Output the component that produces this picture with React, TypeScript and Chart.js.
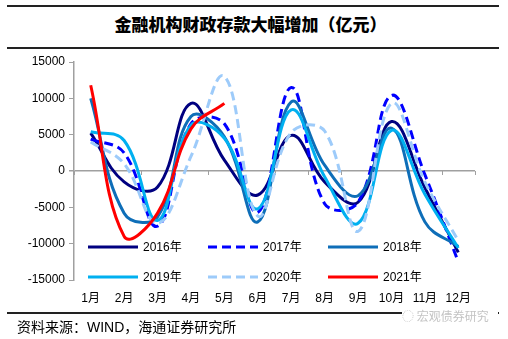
import React, { useEffect, useRef } from "react";
import { Chart, registerables } from "chart.js";

Chart.register(...registerables);

// ---- data ----
const months = ["1月", "2月", "3月", "4月", "5月", "6月", "7月", "8月", "9月", "10月", "11月", "12月"];
const yTicks = [-15000, -10000, -5000, 0, 5000, 10000, 15000];

const seriesNames = ["2016年", "2017年", "2018年", "2019年", "2020年", "2021年"];
const values2016 = [5200, -1500, -2200, 9300, 1500, -3300, 4900, -1500, -4300, 6800, -2300, -11200];
const values2017 = [4400, 2500, -7600, 6500, 6500, -5700, 11500, -4500, -4300, 10400, -500, -12500];
const values2018 = [10000, -5800, -6300, 7500, 4700, -7000, 9500, 800, -3400, 5900, -7000, -10400];
const values2019 = [5400, 4200, -6800, 6300, 4500, -5200, 8400, -800, -7200, 5600, -3200, -10600];
const values2020 = [4000, 1000, -7200, 2000, 13000, -6200, 5300, 5500, -8300, 9300, -1500, -9600];
const values2021 = [11800, -9000, -5800, 5800, 9300, null, null, null, null, null, null, null];

const seriesColors = ["#000080", "#0000FF", "#0E6EB8", "#00B0F0", "#9DCBFA", "#FF0000"];
const seriesDashed = [false, true, false, false, true, false];

const AXIS_GRAY = "#A0A0A0";
const FONT_FAMILY = "'Liberation Sans', Arial, 'Noto Sans CJK SC', sans-serif";

const zeroTicksPlugin = {
  id: "zeroTicks",
  beforeDatasetsDraw(chart: any) {
    const { ctx, scales } = chart;
    const x = scales.x;
    const y = scales.y;
    const y0 = y.getPixelForValue(0);
    ctx.save();
    ctx.strokeStyle = AXIS_GRAY;
    ctx.lineWidth = 1;
    for (let i = 0; i <= months.length; i++) {
      const px = Math.round(x.getPixelForValue(i - 0.5)) + 0.5;
      ctx.beginPath();
      ctx.moveTo(px, y0);
      ctx.lineTo(px, y0 + 4);
      ctx.stroke();
    }
    ctx.restore();
  },
};

const insideLegendPlugin = {
  id: "insideLegend",
  afterDatasetsDraw(chart: any) {
    const { ctx, chartArea } = chart;
    ctx.save();
    chart.data.datasets.forEach((ds: any, i: number) => {
      const col = i % 3;
      const row = Math.floor(i / 3);
      const x0 = chartArea.left + 14 + col * 120;
      const yy = chartArea.top + 185 + row * 30;
      ctx.strokeStyle = ds.borderColor;
      ctx.lineWidth = ds.borderWidth;
      ctx.setLineDash(ds.borderDash || []);
      ctx.beginPath();
      ctx.moveTo(x0, yy);
      ctx.lineTo(x0 + 50, yy);
      ctx.stroke();
      ctx.setLineDash([]);
      ctx.fillStyle = "#000";
      ctx.font = `12px ${FONT_FAMILY}`;
      ctx.textBaseline = "middle";
      ctx.textAlign = "left";
      ctx.fillText(ds.label, x0 + 55, yy + 1);
    });
    ctx.restore();
  },
};

export default function App() {
  const canvasRef = useRef<HTMLCanvasElement | null>(null);

  useEffect(() => {
    if (!canvasRef.current) return;
    const allValues = [values2016, values2017, values2018, values2019, values2020, values2021];
    const datasets = allValues.map((vals, i) => ({
      label: seriesNames[i],
      data: vals,
      borderColor: seriesColors[i],
      backgroundColor: seriesColors[i],
      borderWidth: 3,
      borderDash: seriesDashed[i] ? [9, 5] : [],
      pointRadius: 0,
      pointHoverRadius: 0,
      fill: false,
      tension: 0.4,
      spanGaps: false,
      order: allValues.length - i,
    }));

    const chart = new Chart(canvasRef.current, {
      type: "line",
      data: { labels: months, datasets },
      options: {
        animation: false,
        responsive: false,
        devicePixelRatio: 1,
        layout: { padding: { top: 12, right: 33, left: 0, bottom: 0 } },
        plugins: {
          legend: { display: false },
          tooltip: { enabled: false },
          title: { display: false },
        },
        elements: { line: { borderJoinStyle: "round" } },
        scales: {
          x: {
            type: "category",
            offset: true,
            grid: { display: false, drawTicks: false },
            border: { display: false },
            ticks: {
              color: "#000",
              font: { size: 12, family: FONT_FAMILY },
              padding: 11,
              maxRotation: 0,
              autoSkip: false,
            },
            afterFit(scale: any) {
              scale.height = 32;
            },
          },
          y: {
            min: yTicks[0],
            max: yTicks[yTicks.length - 1],
            ticks: {
              stepSize: yTicks[1] - yTicks[0],
              color: "#000",
              font: { size: 12, family: FONT_FAMILY },
              padding: 4,
              callback: (v: any) => String(v),
            },
            grid: {
              color: (c: any) => (c.tick && c.tick.value === 0 ? AXIS_GRAY : "rgba(0,0,0,0)"),
              tickColor: AXIS_GRAY,
              lineWidth: (c: any) => (c.tick && c.tick.value === 0 ? 1.5 : 1),
              tickLength: 5,
              drawOnChartArea: true,
            },
            border: { display: true, color: AXIS_GRAY, width: 1.5 },
            afterFit(scale: any) {
              scale.width = 74;
            },
          },
        },
      },
      plugins: [zeroTicksPlugin, insideLegendPlugin],
    });

    return () => chart.destroy();
  }, []);

  return (
    <div
      style={{
        position: "fixed",
        left: 0,
        top: 0,
        width: 508,
        height: 339,
        background: "#fff",
        overflow: "hidden",
        fontFamily: FONT_FAMILY,
      }}
    >
      <div style={{ position: "absolute", left: 7, top: 5, width: 492, height: 2, background: "#222" }} />
      <div
        style={{
          position: "absolute",
          left: 0,
          top: 12,
          width: 501,
          textAlign: "center",
          fontFamily: "'Noto Sans CJK SC', sans-serif",
          fontWeight: 900,
          fontSize: 17,
          lineHeight: "24px",
          color: "#000",
        }}
      >
        金融机构财政存款大幅增加（亿元）
      </div>
      <div style={{ position: "absolute", left: 7, top: 47, width: 492, height: 2, background: "#222" }} />
      <canvas
        ref={canvasRef}
        width={508}
        height={262}
        style={{ position: "absolute", left: 0, top: 50, width: 508, height: 262 }}
      />
      <div style={{ position: "absolute", left: 7, top: 312, width: 492, height: 2, background: "#222" }} />
      <div
        style={{
          position: "absolute",
          left: 402,
          top: 308,
          width: 96,
          height: 16,
          background: "#fff",
          color: "#c4c4c4",
          fontSize: 12,
          lineHeight: "16px",
          fontFamily: "'Noto Sans CJK SC', sans-serif",
          whiteSpace: "nowrap",
        }}
      >
        ◌ 宏观债券研究
      </div>
      <div
        style={{
          position: "absolute",
          left: 17,
          top: 318,
          fontSize: 14,
          lineHeight: "18px",
          color: "#000",
          fontFamily: "'Liberation Sans', 'Noto Sans CJK SC', sans-serif",
          whiteSpace: "nowrap",
        }}
      >
        资料来源：WIND，海通证券研究所
      </div>
    </div>
  );
}
